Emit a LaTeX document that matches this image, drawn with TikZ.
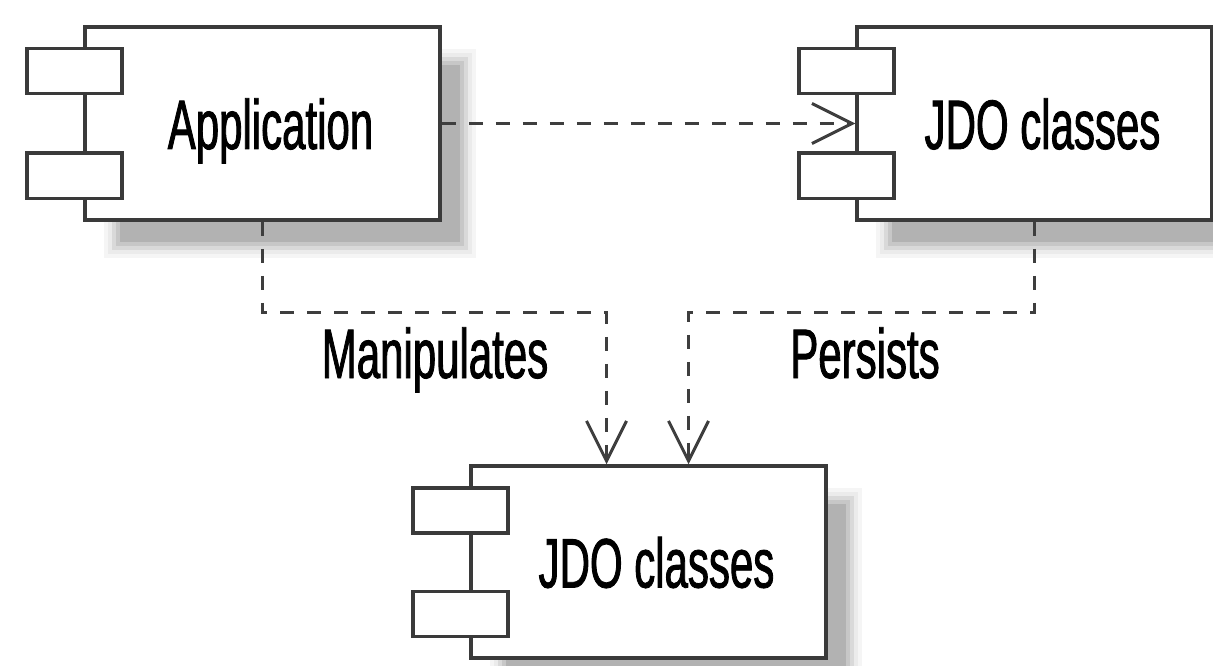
\documentclass[tikz,border=0pt]{standalone}
\usepackage{fontspec}
\newfontfamily\condfont{Liberation Sans}[FakeStretch=0.6,FakeBold=1.2]
\usepackage{tikz}
\usetikzlibrary{arrows.meta,calc,backgrounds}
\usepackage{xcolor}
\definecolor{edgegray}{RGB}{58,58,58}
\definecolor{dashgray}{RGB}{62,62,62}

% soft shadow below and right of a component box
\newcommand\compshadow[1]{%
  \foreach \ext/\sh in {16/4,12/8,8/15,4/22,0/30}
    \fill[black!\sh] ($(#1.north west)+(37-\ext,40-\ext)$) rectangle ($(#1.south east)+(18+\ext,20+\ext)$);
}

\begin{document}
\begin{tikzpicture}[x=1pt, y=-1pt, >={Straight Barb[length=40pt,width=40pt]},
    comp/.style={draw=edgegray, line width=3.5pt, fill=white, inner sep=0pt,
      minimum width=355pt, minimum height=193pt, text height=51pt, text depth=0pt,
      execute at begin node=\hspace*{16pt},
      font=\condfont\fontsize{70}{80}\selectfont},
    port/.style={draw=edgegray, line width=3.5pt, fill=white,
      minimum width=95pt, minimum height=45pt, inner sep=0pt},
    dep/.style={draw=dashgray, line width=3pt, dash pattern=on 14pt off 13pt},
    lbl/.style={inner sep=0pt, text height=48pt, text depth=0pt,
      font=\condfont\fontsize{70}{80}\selectfont}]
    \useasboundingbox (0,0) rectangle (1213,666);
    \coordinate (rail) at (0,312);
    \node[comp] (app) at (262.5,123.5) {Application};
    \node[comp] (jdotop) at (1034.5,123.5) {JDO classes};
    \node[comp, minimum height=192pt] (jdobot) at (648.5,562) {JDO classes};
    \foreach \n in {app,jdotop,jdobot} {
      \node[port] (\n-p1) at ($(\n.north west)+(-9,46)$) {};
      \node[port] (\n-p2) at ($(\n.south west)+(-9,-46)$) {};
    }
    \begin{scope}[on background layer]
      \fill[white] (0,0) rectangle (1213,666);
      \compshadow{app}
      \compshadow{jdotop}
      \compshadow{jdobot}
    \end{scope}
    \draw[dep, ->] (app.east) -- (jdotop.west);
    \draw[dep, ->] (app.south) -- (app.south |- rail) -| ([xshift=-42pt]jdobot.north);
    \draw[dep, ->] (jdotop.south) -- (jdotop.south |- rail) -| ([xshift=40pt]jdobot.north);
    \node[lbl] (manip) at (435,354) {Manipulates};
    \node[lbl] (persist) at (865,354) {Persists};
  \end{tikzpicture}
\end{document}
